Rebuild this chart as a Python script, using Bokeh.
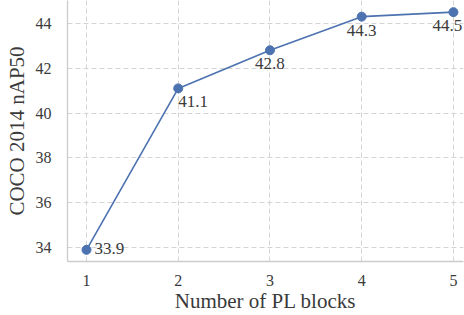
from bokeh.plotting import figure
from bokeh.models import ColumnDataSource, Range1d, FixedTicker, LabelSet
from bokeh.core.properties import field
from bokeh.embed import file_html
from bokeh.resources import INLINE

blocks = [1, 2, 3, 4, 5]
nap50 = [33.9, 41.1, 42.8, 44.3, 44.5]
labels = ["33.9", "41.1", "42.8", "44.3", "44.5"]
y_ticks = [34, 36, 38, 40, 42, 44]

# label placement (style only)
x_off = [8, 0, 0, 0, -6]
y_off = [1, -8, -8, -8, -8]
align = ["left", "left", "center", "center", "center"]
baseline = ["middle", "top", "top", "top", "top"]

FONT = "Liberation Serif"
TXT = "#3a3a3a"

src = ColumnDataSource(dict(x=blocks, y=nap50, t=labels, xo=x_off, yo=y_off,
                            al=align, bl=baseline))

p = figure(width=464, height=315, output_backend="svg", toolbar_location=None,
           x_range=Range1d(0.793, 5.11), y_range=Range1d(33.38, 45.02),
           min_border_left=67, min_border_right=1, min_border_top=0, min_border_bottom=53)
p.outline_line_color = None
p.background_fill_color = "white"

p.line(x="x", y="y", source=src, line_color="#4C72B0", line_width=1.6)
p.scatter(x="x", y="y", source=src, size=9, color="#4C72B0")

ls = LabelSet(x="x", y="y", text="t", x_offset="xo", y_offset="yo", source=src,
              text_align=field("al"), text_baseline=field("bl"),
              text_font=FONT, text_font_size="17px", text_color=TXT)
p.add_layout(ls)

for ax in (p.xaxis[0], p.yaxis[0]):
    ax.axis_line_color = "#cccccc"
    ax.axis_line_width = 1.3
    ax.major_tick_line_color = None
    ax.minor_tick_line_color = None
    ax.major_label_text_font = FONT
    ax.major_label_text_font_size = "16px"
    ax.major_label_text_color = TXT
    ax.axis_label_text_font = FONT
    ax.axis_label_text_font_size = "21px"
    ax.axis_label_text_font_style = "normal"
    ax.axis_label_text_color = TXT

p.xaxis.major_label_standoff = 7
p.yaxis.major_label_standoff = 10
p.xaxis.ticker = FixedTicker(ticks=blocks)
p.yaxis.ticker = FixedTicker(ticks=y_ticks)
p.xaxis.axis_label = "Number of PL blocks"
p.yaxis.axis_label = "COCO 2014 nAP50"
p.xaxis.axis_label_standoff = 0
p.yaxis.axis_label_standoff = 4

for g in (p.xgrid[0], p.ygrid[0]):
    g.grid_line_color = "#d4d4d4"
    g.grid_line_dash = "5 3"
    g.grid_line_width = 1

open("out.html", "w").write(file_html(p, INLINE))
